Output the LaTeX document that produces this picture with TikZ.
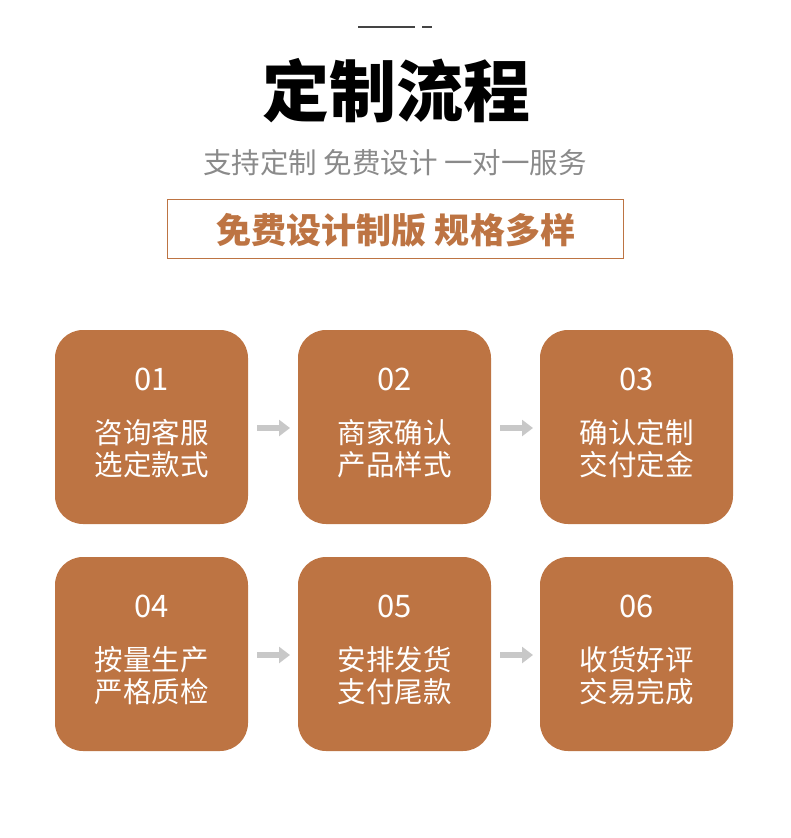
\documentclass[tikz,border=0pt]{standalone}
\usepackage{fontspec}
\newfontfamily\cjk{Noto Sans CJK SC}
\usetikzlibrary{arrows.meta}
\definecolor{brown}{HTML}{BD7443}
\definecolor{arrowgray}{HTML}{C8C8C8}
\definecolor{subgray}{HTML}{8A8A8A}
\definecolor{linegray}{HTML}{444444}
\tikzset{
  stepbox/.style={fill=brown, rounded corners=28pt, minimum width=193pt, minimum height=194pt, inner sep=0pt},
  numtxt/.style={text=white, font=\cjk\fontsize{31}{31}\selectfont},
  steptxt/.style={text=white, font=\cjk\fontsize{28.5}{32}\selectfont, align=center},
  flow/.style={draw=arrowgray, line width=5.5pt, -{Triangle[length=11pt,width=16pt]}}
}
\begin{document}
\begin{tikzpicture}[x=1pt,y=-1pt]
\useasboundingbox (0,0) rectangle (790,838);
\coordinate (l1a) at (358,27); \coordinate (l1b) at (415,27);
\coordinate (l2a) at (422,27); \coordinate (l2b) at (432,27);
\draw[linegray, line width=2pt] (l1a) -- (l1b);
\draw[linegray, line width=2pt] (l2a) -- (l2b);
\node (title) at (396,91) {\cjk\bfseries\fontsize{67}{67}\selectfont 定制流程};
\node[text=subgray] (sub) at (395,163) {\cjk\fontsize{28.5}{28.5}\selectfont 支持定制 免费设计 一对一服务};
\node[draw=brown, line width=1pt, minimum width=456pt, minimum height=59pt] (tag) at (395,228.5) {};
\node[text=brown] (tagtxt) at (396,230) {\cjk\bfseries\fontsize{35}{35}\selectfont 免费设计制版 规格多样};
\node[stepbox] (b1) at (151.5,427) {};
\node[stepbox] (b2) at (394.5,427) {};
\node[stepbox] (b3) at (636.5,427) {};
\node[stepbox] (b4) at (151.5,654) {};
\node[stepbox] (b5) at (394.5,654) {};
\node[stepbox] (b6) at (636.5,654) {};
\foreach \b/\n/\t in {b1/01/{咨询客服\\选定款式}, b2/02/{商家确认\\产品样式}, b3/03/{确认定制\\交付定金}, b4/04/{按量生产\\严格质检}, b5/05/{安排发货\\支付尾款}, b6/06/{收货好评\\交易完成}}{
  \node[numtxt] (\b n) at ([yshift=48pt]\b.center) {\n};
  \node[steptxt] (\b t) at ([yshift=-22pt]\b.center) {\t};
}
\coordinate (a1s) at (257,428); \coordinate (a1e) at (290,428);
\coordinate (a2s) at (500,428); \coordinate (a2e) at (533,428);
\coordinate (a3s) at (257,655); \coordinate (a3e) at (290,655);
\coordinate (a4s) at (500,655); \coordinate (a4e) at (533,655);
\draw[flow] (a1s) -- (a1e);
\draw[flow] (a2s) -- (a2e);
\draw[flow] (a3s) -- (a3e);
\draw[flow] (a4s) -- (a4e);
\end{tikzpicture}
\end{document}
